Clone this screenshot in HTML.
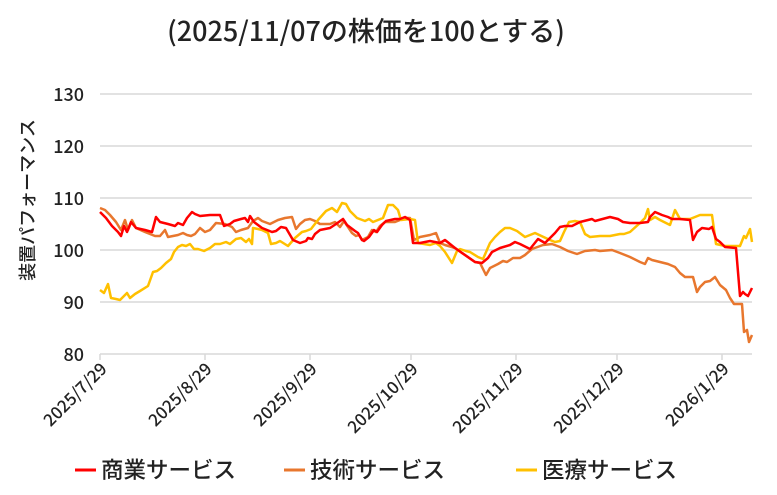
<!DOCTYPE html>
<html><head><meta charset="utf-8"><style>
body{margin:0;background:#fff;}
svg text{font-family:"Noto Sans CJK JP","Liberation Sans",sans-serif;fill:#222;font-weight:500;}
</style></head><body>
<svg width="777" height="490" xmlns="http://www.w3.org/2000/svg">
<rect width="777" height="490" fill="#fff"/>
<text x="366" y="41" font-size="27" text-anchor="middle">(2025/11/07の株価を100とする)</text>
<g stroke="#d9d9d9" stroke-width="1.5">
<line x1="100" y1="94" x2="752" y2="94"/><line x1="100" y1="146" x2="752" y2="146"/>
<line x1="100" y1="198" x2="752" y2="198"/><line x1="100" y1="250" x2="752" y2="250"/>
<line x1="100" y1="302" x2="752" y2="302"/><line x1="100" y1="354" x2="752" y2="354"/>
<line x1="100" y1="354" x2="100" y2="360"/><line x1="205" y1="354" x2="205" y2="360"/><line x1="310" y1="354" x2="310" y2="360"/><line x1="411" y1="354" x2="411" y2="360"/><line x1="516" y1="354" x2="516" y2="360"/><line x1="617" y1="354" x2="617" y2="360"/><line x1="722" y1="354" x2="722" y2="360"/>
</g>
<g font-size="18" text-anchor="end">
<text x="84" y="101">130</text><text x="84" y="153">120</text><text x="84" y="205">110</text><text x="84" y="257">100</text><text x="84" y="309">90</text><text x="84" y="361">80</text>
</g>
<text transform="translate(34,200) rotate(-90)" font-size="18" text-anchor="middle">装置パフォーマンス</text>
<g font-size="17" text-anchor="end">
<text transform="translate(108,370) rotate(-45)">2025/7/29</text>
<text transform="translate(213,370) rotate(-45)">2025/8/29</text>
<text transform="translate(318,370) rotate(-45)">2025/9/29</text>
<text transform="translate(419,370) rotate(-45)">2025/10/29</text>
<text transform="translate(524,370) rotate(-45)">2025/11/29</text>
<text transform="translate(625,370) rotate(-45)">2025/12/29</text>
<text transform="translate(730,370) rotate(-45)">2026/1/29</text>
</g>
<g fill="none" stroke-width="2.5" stroke-linejoin="round">
<polyline stroke="#e8772e" points="100,208 105,210 110,215 116,222 121,230 125,220 128,230 132,220 136,228 145,232 155,236 160,236 165,230 168,237 178,235 183,233 187,235 191,236 195,234 200,228 205,232 210,230 216,223 225,224 232,227 236,232 241,230 248,228 253,221 258,218 262,221 270,224 278,220 285,218 292,217 296,229 300,224 305,220 310,219 315,221 320,224 330,224 335,222 340,227 344,221 352,233 356,236 359,235 362,240 368,237 372,230 376,232 380,226 385,222 395,222 405,218 410,218 414,240 420,237 430,235 436,233 440,243 445,245 455,248 462,253 475,262 480,263 486,275 490,268 498,264 503,261 507,262 513,258 520,258 525,255 532,249 543,245 552,244 560,247 568,251 577,254 585,251 595,250 600,251 612,250 620,253 630,257 640,262 645,264 648,258 652,260 660,262 668,264 675,267 680,273 685,277 693,277 697,292 700,287 705,282 710,281 715,277 720,285 726,290 730,298 734,304 742,304 744,332 747,330 749,342 752,335"/>
<polyline stroke="#ffc000" points="100,290 104,293 108,284 111,298 116,299 120,300 124,296 127,293 130,298 135,294 140,291 148,286 153,272 157,271 161,268 166,263 171,259 174,252 178,247 182,245 186,246 190,244 194,249 198,249 204,251 210,248 215,244 220,244 226,242 230,244 236,239 241,238 246,242 249,239 252,244 253,228 258,229 262,230 268,233 271,244 276,243 280,241 288,246 295,238 302,232 306,231 311,229 318,220 326,211 332,208 337,212 342,203 346,204 350,211 357,218 365,221 369,219 373,222 383,218 388,205 393,205 398,210 401,220 410,219 415,220 418,243 430,245 436,243 440,246 445,252 452,263 457,251 460,249 466,251 470,252 478,257 483,259 490,243 495,237 500,232 505,228 510,228 517,231 525,237 535,233 550,240 555,242 560,241 564,232 569,222 575,221 580,222 585,234 590,237 600,236 610,236 620,234 624,234 630,232 640,223 645,218 648,209 650,220 655,217 660,220 670,225 675,210 680,219 690,219 700,215 712,215 716,244 725,246 740,246 744,236 746,238 750,229 752,242"/>
<polyline stroke="#ff0000" points="100,212 106,218 112,226 118,232 121,236 124,226 127,232 131,222 136,228 145,230 152,232 156,217 160,222 168,224 175,226 178,223 183,225 187,218 192,212 195,214 200,216 210,215 220,215 224,226 230,224 234,221 241,219 245,218 248,222 250,216 254,222 262,228 272,232 276,231 281,227 286,228 293,240 300,243 306,241 308,238 312,239 315,234 320,230 330,228 336,224 343,219 347,225 355,231 358,233 362,240 364,241 369,237 374,230 377,232 382,225 386,221 395,219 400,219 405,217 410,220 413,243 420,243 430,241 440,243 445,240 455,248 465,255 475,262 482,263 488,258 492,252 500,248 510,245 515,242 520,244 530,249 538,239 545,243 555,233 560,227 565,226 572,226 580,222 592,219 595,221 610,217 618,219 623,222 630,223 640,223 648,222 650,217 655,212 662,215 668,217 672,219 680,219 690,220 693,240 697,232 702,228 709,229 712,227 716,239 720,242 725,247 736,248 740,296 743,292 745,294 748,296 752,288"/>
</g>
<g stroke-width="3">
<line x1="75" y1="470" x2="96" y2="470" stroke="#ff0000"/>
<line x1="284" y1="470" x2="305" y2="470" stroke="#e8772e"/>
<line x1="516" y1="470" x2="537" y2="470" stroke="#ffc000"/>
</g>
<g font-size="22.5">
<text x="101" y="478">商業サービス</text>
<text x="310" y="478">技術サービス</text>
<text x="542" y="478">医療サービス</text>
</g>
</svg>
</body></html>
